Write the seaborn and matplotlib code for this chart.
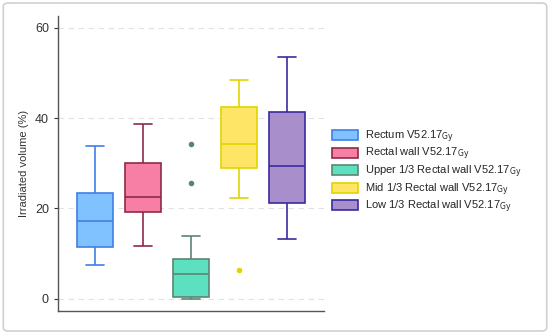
import matplotlib
matplotlib.use("Agg")
import matplotlib.pyplot as plt
from matplotlib.patches import Patch, FancyBboxPatch
import seaborn as sns
import pandas as pd

# values (five-number summaries + outliers)
groups = ["Rectum", "Rectal wall", "Upper 1/3 Rectal wall", "Mid 1/3 Rectal wall", "Low 1/3 Rectal wall"]
rectum = [7.5, 11.5, 17.2, 23.5, 33.8]
rectal_wall = [11.7, 19.1, 22.6, 30.0, 38.8]
upper = [0.0, 0.1, 0.2, 0.4, 2.0, 4.0, 5.4, 6.5, 7.5, 8.9, 13.8, 25.6, 34.3]
mid = [6.4, 22.4, 29.0, 31.0, 34.3, 38.0, 42.5, 45.0, 48.5]
low = [13.3, 21.1, 29.3, 41.4, 53.5]
fills = ["#80c2ff", "#f77fa5", "#5ce0bf", "#ffe566", "#a88fcb"]
edges = ["#3f7fe6", "#8c2b45", "#5b8573", "#e3d400", "#3c2a9e"]
yticks = [0, 20, 40, 60]

df = pd.concat([pd.DataFrame({"group": g, "value": v})
                for g, v in zip(groups, [rectum, rectal_wall, upper, mid, low])])

sns.set_style("white")
plt.rcParams["font.family"] = ["Liberation Sans", "DejaVu Sans"]
fig = plt.figure(figsize=(5.5, 3.34), dpi=100)
ax = fig.add_axes([0.1055, 0.069, 0.4835, 0.883])

for g, fc, ec in zip(groups, fills, edges):
    sns.boxplot(data=df[df["group"] == g], x="group", y="value", order=groups,
                color=fc, linecolor=ec, saturation=1, width=0.73, linewidth=1.2,
                flierprops=dict(marker="o", markersize=3, markerfacecolor=ec,
                                markeredgecolor=ec), ax=ax)

ax.set_xlim(-0.77, 4.77)
ax.set_ylim(-2.7, 62.6)
ax.set_yticks(yticks)
ax.set_xticks([])
ax.set_xlabel("")
ax.set_ylabel("Irradiated volume (%)", fontsize=8, color="#333333")
ax.tick_params(axis="y", labelsize=9, colors="#333333", length=3, width=0.8, left=True)
for y in yticks:
    ax.axhline(y, color="#e2e2e2", lw=0.8, ls=(0, (5, 4)), zorder=0)
for s in ["top", "right"]:
    ax.spines[s].set_visible(False)
for s in ["left", "bottom"]:
    ax.spines[s].set_color("#555555")
    ax.spines[s].set_linewidth(1.0)

handles = [Patch(facecolor=fc, edgecolor=ec, lw=1.2) for fc, ec in zip(fills, edges)]
labels = [g + r" V52.17$_{\mathrm{Gy}}$" for g in groups]
fig.legend(handles, labels, loc="upper left", bbox_to_anchor=(0.585, 0.645),
           frameon=False, fontsize=8, handlelength=2.4, handleheight=1.0,
           labelspacing=0.1, handletextpad=0.6)

fig.patches.append(FancyBboxPatch((0.006, 0.009), 0.988, 0.982, transform=fig.transFigure,
                                  boxstyle="round,pad=0,rounding_size=0.01",
                                  fc="none", ec="#d0d0d0", lw=1.2))
fig.savefig("out.png", dpi=100)
